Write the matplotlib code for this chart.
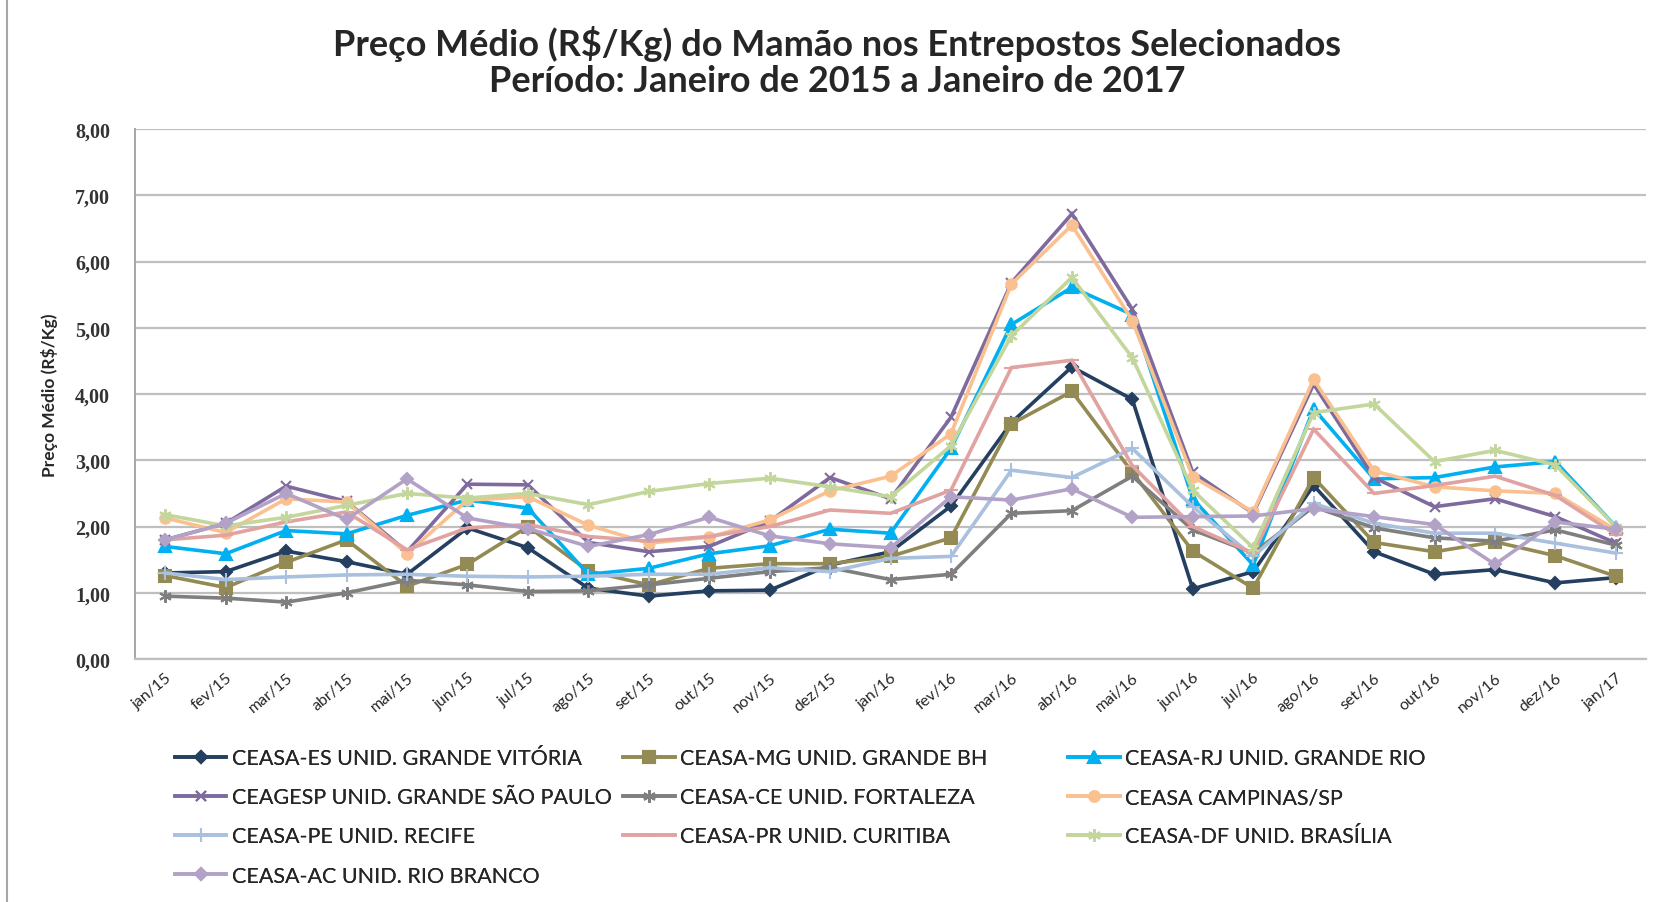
import numpy as np
import matplotlib
matplotlib.use("Agg")
import matplotlib.pyplot as plt
from matplotlib.lines import Line2D

# months on the category axis
months = ["jan/15", "fev/15", "mar/15", "abr/15", "mai/15", "jun/15", "jul/15", "ago/15",
          "set/15", "out/15", "nov/15", "dez/15", "jan/16", "fev/16", "mar/16", "abr/16",
          "mai/16", "jun/16", "jul/16", "ago/16", "set/16", "out/16", "nov/16", "dez/16", "jan/17"]

# average prices (R$/Kg)
es_vitoria = [1.30, 1.32, 1.63, 1.47, 1.28, 1.98, 1.68, 1.07, 0.95, 1.03, 1.04, 1.42, 1.62, 2.31,
              3.57, 4.41, 3.92, 1.06, 1.32, 2.62, 1.62, 1.28, 1.35, 1.15, 1.23]
mg_bh = [1.26, 1.08, 1.46, 1.80, 1.10, 1.43, 2.00, 1.33, 1.12, 1.37, 1.44, 1.44, 1.55, 1.83,
         3.55, 4.04, 2.82, 1.63, 1.07, 2.74, 1.76, 1.62, 1.77, 1.56, 1.25]
rj_rio = [1.70, 1.59, 1.94, 1.89, 2.17, 2.40, 2.28, 1.28, 1.37, 1.59, 1.71, 1.96, 1.90, 3.18,
          5.05, 5.61, 5.20, 2.42, 1.42, 3.78, 2.72, 2.74, 2.90, 2.98, 2.00]
sp_ceagesp = [1.80, 2.05, 2.61, 2.38, 1.62, 2.64, 2.63, 1.76, 1.62, 1.70, 2.08, 2.74, 2.42, 3.65,
              5.68, 6.72, 5.28, 2.82, 2.20, 4.15, 2.74, 2.30, 2.42, 2.15, 1.75]
ce_fortaleza = [0.95, 0.92, 0.86, 1.00, 1.19, 1.12, 1.02, 1.03, 1.12, 1.22, 1.32, 1.38, 1.20, 1.28,
                2.20, 2.24, 2.76, 1.95, 1.60, 2.30, 1.98, 1.83, 1.78, 1.95, 1.72]
campinas = [2.13, 1.91, 2.42, 2.37, 1.59, 2.40, 2.45, 2.02, 1.75, 1.84, 2.10, 2.54, 2.76, 3.40,
            5.66, 6.55, 5.11, 2.75, 2.22, 4.22, 2.84, 2.60, 2.54, 2.50, 1.95]
pe_recife = [1.30, 1.20, 1.24, 1.27, 1.28, 1.25, 1.24, 1.25, 1.28, 1.28, 1.38, 1.32, 1.52, 1.55,
             2.85, 2.74, 3.18, 2.30, 1.55, 2.35, 2.05, 1.90, 1.90, 1.75, 1.60]
pr_curitiba = [1.80, 1.87, 2.07, 2.22, 1.65, 1.98, 2.03, 1.85, 1.78, 1.85, 2.00, 2.25, 2.20, 2.55,
               4.40, 4.51, 2.92, 2.00, 1.60, 3.47, 2.50, 2.62, 2.76, 2.47, 1.88]
df_brasilia = [2.18, 2.01, 2.14, 2.32, 2.50, 2.43, 2.50, 2.33, 2.53, 2.65, 2.73, 2.60, 2.45, 3.22,
               4.88, 5.76, 4.55, 2.55, 1.68, 3.72, 3.85, 2.98, 3.15, 2.93, 2.00]
ac_rio_branco = [1.80, 2.05, 2.50, 2.11, 2.72, 2.13, 1.97, 1.70, 1.88, 2.14, 1.86, 1.74, 1.68, 2.45,
                 2.40, 2.57, 2.14, 2.15, 2.16, 2.27, 2.15, 2.03, 1.43, 2.07, 1.96]

labels = ["CEASA-ES UNID. GRANDE VITÓRIA", "CEASA-MG UNID. GRANDE BH", "CEASA-RJ UNID. GRANDE RIO",
          "CEAGESP UNID. GRANDE SÃO PAULO", "CEASA-CE UNID. FORTALEZA", "CEASA CAMPINAS/SP",
          "CEASA-PE UNID. RECIFE", "CEASA-PR UNID. CURITIBA", "CEASA-DF UNID. BRASÍLIA",
          "CEASA-AC UNID. RIO BRANCO"]
yticks = [0, 1, 2, 3, 4, 5, 6, 7, 8]

series = [es_vitoria, mg_bh, rj_rio, sp_ceagesp, ce_fortaleza, campinas,
          pe_recife, pr_curitiba, df_brasilia, ac_rio_branco]

# excel-ish styles: colour, marker, marker size
styles = [
    ("#243F60", "D", 6.0),
    ("#948A54", "s", 8.5),
    ("#00B0F0", "^", 8.0),
    ("#7F6A9E", "x", 7.0),
    ("#7F7F7F", (6, 2, 0), 9.0),
    ("#FAC090", "o", 7.5),
    ("#A9C0DE", "+", 10.0),
    ("#E0A3A1", "_", 10.0),
    ("#C3D69B", (6, 2, 0), 9.0),
    ("#B3A2C7", "D", 6.0),
]

fig = plt.figure(figsize=(16.61, 9.03), dpi=100)
ax = fig.add_axes([0.0813, 0.269, 0.9097, 0.587])

x = np.arange(len(months))
handles = []
for vals, lab, (col, mk, ms) in zip(series, labels, styles):
    h, = ax.plot(x, vals, color=col, lw=2.6, marker=mk, markersize=ms,
                 markeredgewidth=1.5, markeredgecolor=col, markerfacecolor=col,
                 label=lab, solid_joinstyle="miter")
    handles.append(h)

ax.set_xlim(-0.5, len(months) - 0.5)
ax.set_ylim(0, 8)
ax.set_yticks(yticks)
ax.set_yticklabels([f"{v:.2f}".replace(".", ",") for v in yticks],
                   fontfamily="Liberation Serif", fontweight="bold", fontsize=14.5, color="#333333")
ax.set_xticks(x)
ax.set_xticklabels(months, rotation=40, ha="right", va="top", rotation_mode="anchor",
                   fontfamily="Lato", fontsize=11.5, color="#262626")
ax.tick_params(axis="x", length=0, pad=8)
ax.tick_params(axis="y", length=0, pad=18)

ax.grid(axis="y", color="#BFBFBF", lw=1.6)
ax.set_axisbelow(True)
for s in ["top", "right"]:
    ax.spines[s].set_visible(False)
ax.spines["left"].set_color("#A6A6A6")
ax.spines["bottom"].set_color("#BFBFBF")
ax.spines["left"].set_linewidth(1.4)
ax.spines["bottom"].set_linewidth(1.6)

ax.set_ylabel("Preço Médio (R$/Kg)", fontfamily="Lato", fontweight="bold", fontsize=12.5,
              color="#262626", labelpad=12)

fig.text(0.504, 0.951, "Preço Médio (R$/Kg) do Mamão nos Entrepostos Selecionados",
         ha="center", va="center", fontfamily="Lato", fontweight="bold", fontsize=26, color="#262626")
fig.text(0.504, 0.910, "Período: Janeiro de 2015 a Janeiro de 2017",
         ha="center", va="center", fontfamily="Lato", fontweight="bold", fontsize=26, color="#262626")

# legend: three columns laid out row by row like excel
cols = [[0, 3, 6, 9], [1, 4, 7], [2, 5, 8]]
xpos = [0.100, 0.370, 0.638]
for xp, idx in zip(xpos, cols):
    leg = fig.legend([handles[i] for i in idx], [labels[i] for i in idx],
                     loc="upper left", bbox_to_anchor=(xp, 0.180), frameon=False,
                     prop={"family": "Lato", "size": 15.5}, handlelength=2.4,
                     handletextpad=0.25, labelspacing=0.89, borderaxespad=0, labelcolor="#262626")
    fig.add_artist(leg)

# left border of the chart frame
fig.add_artist(Line2D([0.004, 0.004], [0.0, 1.0], color="#A6A6A6", lw=1.5))

fig.savefig("out.png", dpi=100, facecolor="white")
